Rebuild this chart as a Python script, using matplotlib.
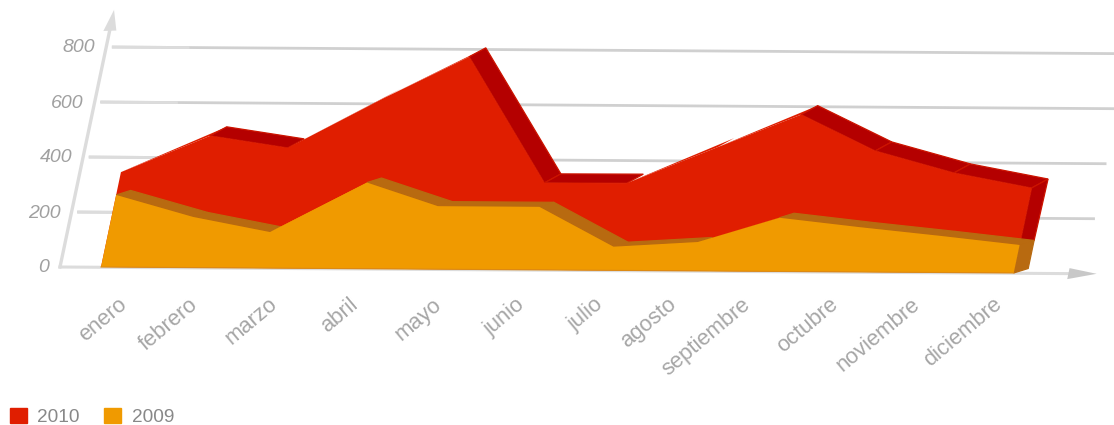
import matplotlib
matplotlib.use("Agg")
import matplotlib.pyplot as plt
from matplotlib.patches import Patch
from matplotlib.transforms import Affine2D

months = ["enero", "febrero", "marzo", "abril", "mayo", "junio", "julio",
          "agosto", "septiembre", "octubre", "noviembre", "diciembre"]
values_2010 = [345, 479, 437, 622, 772, 316, 317, 450, 570, 440, 362, 309]
values_2009 = [262, 184, 131, 313, 229, 229, 86, 105, 195, 163, 133, 102]
y_ticks = [0, 200, 400, 600, 800]
month_pos = [0, 0.98, 1.94, 2.98, 3.89, 5.11, 6.10, 7.10, 8.02, 9, 10, 10.97]
label_nudge = [-1, -10, -10, -9, -5, -1, -2, -9, -14, -6, -3, -1]

RED, RED_DARK, RED_RIM = "#E01E00", "#B40000", "#CC1400"
ORANGE, BROWN = "#F09A00", "#B86A10"
GRID, AXIS, TICK, LABEL = "#D0D0D0", "#DCDCDC", "#A0A0A0", "#A6A6A6"

plt.rcParams["font.family"] = ["Liberation Sans", "DejaVu Sans"]
fig = plt.figure(figsize=(11.14, 4.25), dpi=100)
ax = fig.add_axes([0, 0, 1, 1])
ax.set_xlim(0, 1114)
ax.set_ylim(425, 0)
ax.axis("off")


def plane(origin_x, origin_y=267.0, dx=0.0, dy=0.0):
    """Oblique projection (month, value) -> axes data (pixel-like) coordinates."""
    return Affine2D.from_values(83.2, 0.546, 0.0578, -0.275, origin_x, origin_y).translate(dx, dy)


wall_p = plane(60)
front_p = plane(101)
back_2009 = plane(101, dx=14.5, dy=-4.5)
back_2010 = plane(101, dx=16.5, dy=-9)
wall = wall_p + ax.transData
front = front_p + ax.transData

# wall: grid lines, axes and tick labels
for v in y_ticks[1:]:
    ax.plot([0.068, 12.3], [v, v], color=GRID, lw=2.0, transform=wall,
            solid_capstyle="butt", zorder=1)
    ax.plot([0.068, 1.0], [v, v], color=AXIS, lw=2.0, transform=wall,
            solid_capstyle="butt", zorder=1)
ax.plot([0, 12.15], [0, 0], color=AXIS, lw=2.2, transform=wall, zorder=1)
ax.fill([12.12, 12.46, 12.12], [-20, 0, 20], color="#C8C8C8", transform=wall, lw=0, zorder=1)
ax.plot([0, 0], [0, 860], color=AXIS, lw=2.4, transform=wall, zorder=1)
ax.fill([-0.075, 0, 0.08], [858, 935, 860], color=AXIS, transform=wall, lw=0, zorder=1)
for v in y_ticks:
    ax.annotate(str(v), xy=(0, v), xycoords=wall, xytext=(-11, -1),
                textcoords="offset pixels", ha="right", va="center",
                color=TICK, style="italic", fontsize=14, zorder=2)


def series(values, back, top_color, face, rim, threshold, z):
    n = len(values)
    for i in range(n - 1):
        a, b = values[i], values[i + 1]
        xa, xb = month_pos[i], month_pos[i + 1]
        f = front_p.transform([(xa, a), (xb, b)])
        q = back.transform([(xb, b), (xa, a)])
        if b - a < threshold:
            ax.fill([f[0][0], f[1][0], q[0][0], q[1][0]],
                    [f[0][1], f[1][1], q[0][1], q[1][1]],
                    facecolor=top_color, edgecolor=rim, lw=0.9, zorder=z)
        else:
            ax.fill([f[0][0], q[0][0], f[1][0]], [f[0][1], q[0][1], f[1][1]],
                    facecolor=face, lw=0, zorder=z)
    # right-hand side, down to the floor or to the series in front
    last = n - 1
    xl = month_pos[last]
    low = 0 if back is back_2009 else values_2009[last]
    p = front_p.transform([(xl, low), (xl, values[last])])
    q = back.transform([(xl, values[last])])
    r = back_2009.transform([(xl, low)])
    ax.fill([p[0][0], p[1][0], q[0][0], r[0][0]], [p[0][1], p[1][1], q[0][1], r[0][1]],
            facecolor=top_color, edgecolor=rim, lw=0.9, zorder=z)
    # front face
    ax.fill(month_pos + [xl, 0], list(values) + [0, 0], color=face, lw=0,
            transform=front, zorder=z + 0.5)


series(values_2010, back_2010, RED_DARK, RED, RED_RIM, 40, 3)
series(values_2009, back_2009, BROWN, ORANGE, BROWN, 40, 4)
ax.plot([0, month_pos[-1]], [0, 0], color="#DC8A14", lw=0.8, transform=front, zorder=5)

# month labels
labels = Affine2D.from_values(79.5, 0, 0, 1, 119, 294) + ax.transData
for i, m in enumerate(months):
    ax.annotate(m, xy=(i, 0), xycoords=labels, xytext=(label_nudge[i], 0),
                textcoords="offset pixels", rotation=40, rotation_mode="anchor",
                ha="right", va="top", color=LABEL, fontsize=15.8, zorder=2)

leg = ax.legend(handles=[Patch(color=RED, label="2010"), Patch(color=ORANGE, label="2009")],
                loc="lower left", bbox_to_anchor=(10 / 1114, -0.003), ncol=2, frameon=False,
                fontsize=13.7, labelcolor="#888888", handlelength=0.88, handleheight=0.88,
                handletextpad=0.55, columnspacing=1.3, borderaxespad=0, borderpad=0)
fig.savefig("out.png", dpi=100)
